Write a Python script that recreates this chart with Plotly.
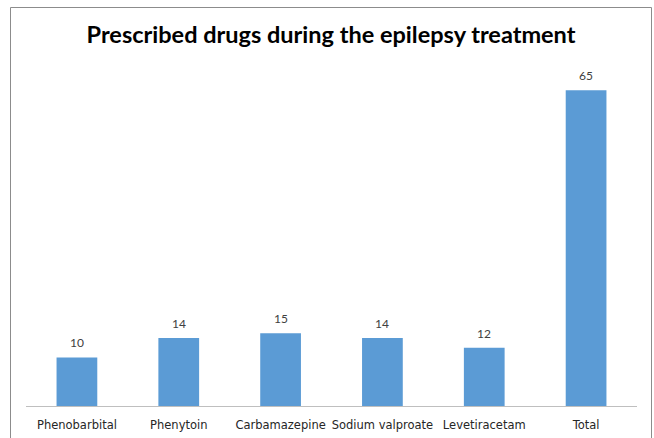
import plotly.graph_objects as go

categories = ["Phenobarbital", "Phenytoin", "Carbamazepine", "Sodium valproate", "Levetiracetam", "Total"]
values = [10, 14, 15, 14, 12, 65]
title_text = "Prescribed drugs during the epilepsy treatment"

W, H = 654, 438
ml, mr, mt, mb = 26, 17, 66, 32
pw, ph = W - ml - mr, H - mt - mb

def px_x(x):
    return (x - ml) / pw

def px_y(y):
    return (H - mb - y) / ph

fig = go.Figure()
fig.add_trace(go.Bar(
    x=categories, y=values,
    marker=dict(color="#5B9BD5", line=dict(width=0)),
    width=0.4,
    hoverinfo="skip",
))

for c, v in zip(categories, values):
    fig.add_annotation(
        x=c, y=v, text=str(v), showarrow=False,
        yanchor="bottom", yshift=5,
        font=dict(family="Lato", size=12, color="#404040"),
    )

fig.add_shape(
    type="rect", xref="paper", yref="paper",
    x0=px_x(10.5), x1=px_x(651.5), y0=px_y(450), y1=px_y(7.5),
    line=dict(color="#8c8c8c", width=1), fillcolor="rgba(0,0,0,0)",
    layer="below",
)

fig.update_layout(
    width=W, height=H,
    margin=dict(l=ml, r=mr, t=mt, b=mb, pad=0, autoexpand=False),
    paper_bgcolor="white", plot_bgcolor="white",
    showlegend=False,
    bargap=0.6,
    title=dict(
        text="<b>" + title_text + "</b>",
        x=331 / W, xanchor="center", xref="container",
        y=1 - 35 / H, yanchor="middle", yref="container",
        font=dict(family="Lato", size=23.5, color="black"),
        automargin=False,
    ),
    xaxis=dict(
        showline=True, linecolor="#BFBFBF", linewidth=1,
        showgrid=False, zeroline=False, automargin=False,
        ticks="outside", ticklen=8, tickcolor="rgba(0,0,0,0)",
        tickfont=dict(family="DejaVu Sans", size=11.5, color="#262626"),
        fixedrange=True,
    ),
    yaxis=dict(
        range=[0, 70], visible=False, showgrid=False, zeroline=False,
        fixedrange=True, automargin=False,
    ),
)

fig.write_html("out.html")
